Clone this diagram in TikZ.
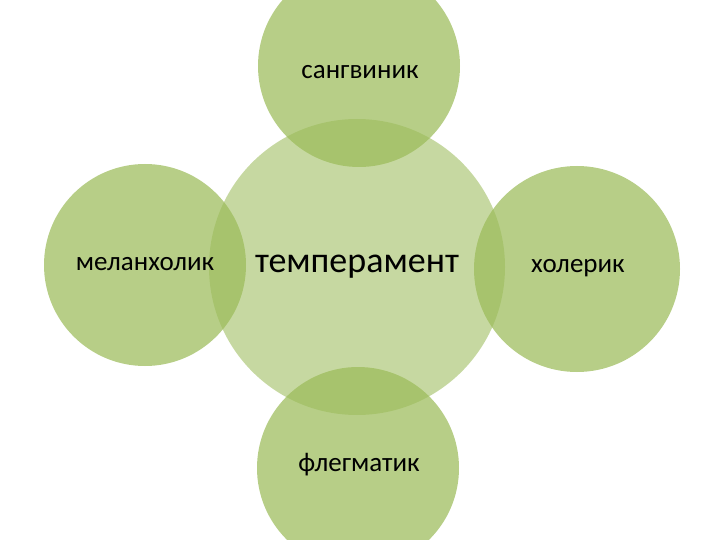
\documentclass[tikz,border=0pt]{standalone}
\usepackage{fontspec}
\setmainfont{Carlito}
\usepackage{tikz}

\begin{document}
\begin{tikzpicture}
        [ x=1pt, y=-1pt
        , mid/.style={circle, fill=olive, fill opacity=0.57, text opacity=1, inner sep=0pt, minimum size=296pt, font=\fontsize{36}{40}\selectfont}
        , sat/.style={circle, fill=olive, fill opacity=0.72, text opacity=1, inner sep=0pt, minimum size=202pt, font=\fontsize{27}{30}\selectfont}
        , lbl/.style={font=\fontsize{27}{30}\selectfont}
        ]
        \definecolor{olive}{HTML}{9BBB59}
        \useasboundingbox (0,0) rectangle (720,540);

        \node (temp) [mid] at (357,267) {темперамент};
        \node (sang) [sat] at (359,66)  {};
        \node (mel)  [sat] at (145,265) {};
        \node (hol)  [sat, minimum size=206pt] at (577,269) {};
        \node (fleg) [sat] at (358,468) {};

        \node (sangT) [lbl] at (360,72)  {сангвиник};
        \node (melT)  [lbl] at (145,264) {меланхолик};
        \node (holT)  [lbl] at (578,268) {холерик};
        \node (flegT) [lbl] at (359,465) {флегматик};
\end{tikzpicture}
\end{document}
